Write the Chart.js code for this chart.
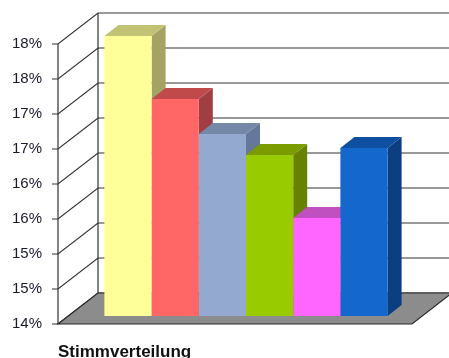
<!DOCTYPE html>
<html>
<head>
<meta charset="utf-8">
<script src="https://cdn.jsdelivr.net/npm/chart.js@4"></script>
<style>
  html, body { margin: 0; padding: 0; background: #fff; }
  #chart { display: block; }
</style>
</head>
<body>
<canvas id="chart" width="449" height="358"></canvas>
<script>
// data
var categories = ["Stimmverteilung"];
var seriesNames = ["Reihe 1", "Reihe 2", "Reihe 3", "Reihe 4", "Reihe 5", "Reihe 6"];
var seriesValues = [18.0, 17.1, 16.6, 16.3, 15.4, 16.4];
var yMin = 14, yMax = 18, yStep = 0.5;

// face colours: front, top, side
var frontColors = ["#ffff99", "#ff6666", "#93a9cf", "#99cc00", "#ff66ff", "#1467cc"];
var topColors = ["#c2c274", "#c04a4a", "#7488a8", "#7a9c00", "#c050c0", "#0e4f9f"];
var sideColors = ["#a3a363", "#a03e44", "#66789a", "#668200", "#a040a0", "#0c3f80"];

// 3D offsets relative to the bar plane
var FRONT = { dx: -11, dy: 8 };
var BACK = { dx: 29, dy: -23 };
var DEPTH = { dx: 14, dy: -11 };

var frame3d = {
  id: "frame3d",
  beforeDatasetsDraw: function (chart) {
    var ctx = chart.ctx;
    var area = chart.chartArea;
    var y = chart.scales.y;
    var fx = area.left + FRONT.dx;
    var bx = area.left + BACK.dx;
    var rightBack = area.right + BACK.dx;
    var rightFront = area.right + FRONT.dx;
    ctx.save();

    // back wall grid + left wall diagonals
    ctx.strokeStyle = "#333";
    ctx.lineWidth = 1.2;
    for (var v = yMin; v <= yMax + 1e-9; v += yStep) {
      var p = y.getPixelForValue(v);
      ctx.beginPath();
      ctx.moveTo(fx - 6, p + FRONT.dy);
      ctx.lineTo(fx, p + FRONT.dy);
      ctx.lineTo(bx, p + BACK.dy);
      ctx.lineTo(rightBack, p + BACK.dy);
      ctx.stroke();
    }
    var top = y.getPixelForValue(yMax);
    var bot = y.getPixelForValue(yMin);
    ctx.beginPath();
    ctx.moveTo(fx, top + FRONT.dy);
    ctx.lineTo(fx, bot + FRONT.dy);
    ctx.moveTo(bx, top + BACK.dy);
    ctx.lineTo(bx, bot + BACK.dy);
    ctx.stroke();

    // floor
    ctx.beginPath();
    ctx.moveTo(fx, bot + FRONT.dy);
    ctx.lineTo(rightFront, bot + FRONT.dy);
    ctx.lineTo(rightBack, bot + BACK.dy);
    ctx.lineTo(bx, bot + BACK.dy);
    ctx.closePath();
    ctx.fillStyle = "#8c8c8c";
    ctx.fill();
    ctx.strokeStyle = "#2a2a2a";
    ctx.stroke();

    // bar tops and sides, left to right
    chart.data.datasets.forEach(function (ds, i) {
      var meta = chart.getDatasetMeta(i);
      meta.data.forEach(function (bar) {
        var l = bar.x - bar.width / 2;
        var r = bar.x + bar.width / 2;
        var t = bar.y;
        var b = Math.min(bar.base, area.bottom);
        ctx.fillStyle = sideColors[i];
        ctx.beginPath();
        ctx.moveTo(r, t);
        ctx.lineTo(r + DEPTH.dx, t + DEPTH.dy);
        ctx.lineTo(r + DEPTH.dx, b + DEPTH.dy);
        ctx.lineTo(r, b);
        ctx.closePath();
        ctx.fill();
        ctx.fillStyle = topColors[i];
        ctx.beginPath();
        ctx.moveTo(l, t);
        ctx.lineTo(l + DEPTH.dx, t + DEPTH.dy);
        ctx.lineTo(r + DEPTH.dx, t + DEPTH.dy);
        ctx.lineTo(r, t);
        ctx.closePath();
        ctx.fill();
      });
    });

    // category label
    ctx.fillStyle = "#111";
    ctx.font = "bold 17px 'Liberation Sans', Arial, sans-serif";
    ctx.textAlign = "left";
    ctx.textBaseline = "alphabetic";
    ctx.fillText(categories[0], fx, 357);
    ctx.restore();
  }
};

var datasets = seriesValues.map(function (v, i) {
  return {
    label: seriesNames[i],
    data: [v],
    backgroundColor: frontColors[i],
    borderWidth: 0,
    barPercentage: 1.0,
    categoryPercentage: 0.8
  };
});

new Chart(document.getElementById("chart"), {
  type: "bar",
  data: { labels: categories, datasets: datasets },
  options: {
    responsive: false,
    animation: false,
    layout: { padding: { left: 0, top: 36, right: 26, bottom: 42 } },
    plugins: {
      legend: { display: false },
      tooltip: { enabled: false }
    },
    scales: {
      x: { display: false },
      y: {
        min: yMin,
        max: yMax,
        border: { display: false },
        grid: { display: false, drawTicks: false },
        afterFit: function (axis) { axis.width = 69; },
        ticks: {
          stepSize: yStep,
          padding: 27,
          labelOffset: 8,
          color: "#1a1a2e",
          font: { family: "'Liberation Sans', Arial, sans-serif", size: 15 },
          callback: function (v) { return Math.round(v) + "%"; }
        }
      }
    }
  },
  plugins: [frame3d]
});
</script>
</body>
</html>
